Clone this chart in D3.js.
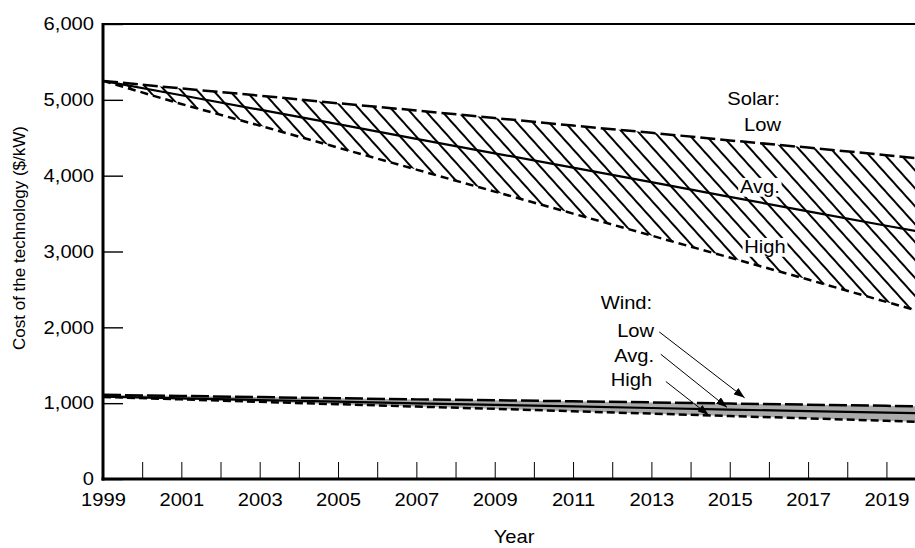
<!DOCTYPE html>
<html><head><meta charset="utf-8">
<script src="https://cdn.jsdelivr.net/npm/d3@7"></script>
<style>
body{margin:0;background:#fff}
svg{display:block}
text{font-family:"Liberation Sans",Arial,Helvetica,sans-serif;fill:#000}
</style>
</head><body>
<svg id="c" width="915" height="548"></svg>
<script>
// ---- data ----
const years      = [1999, 2001, 2003, 2005, 2007, 2009, 2011, 2013, 2015, 2017, 2019, 2020];
const solarLow   = [5250, 5150, 5055, 4955, 4860, 4760, 4660, 4565, 4465, 4370, 4270, 4220];
const solarAvg   = [5250, 5060, 4870, 4680, 4485, 4295, 4105, 3915, 3720, 3530, 3340, 3245];
const solarHigh  = [5250, 4945, 4660, 4370, 4080, 3790, 3500, 3210, 2920, 2630, 2335, 2190];
const windLow    = [1110, 1095, 1080, 1065, 1050, 1038, 1025, 1010,  995,  980,  965,  958];
const windAvg    = [1085, 1063, 1042, 1020,  998,  977,  957,  936,  916,  895,  875,  865];
const windHigh   = [1082, 1050, 1018,  986,  955,  925,  893,  862,  830,  800,  768,  752];
const yTickValues = [0, 1000, 2000, 3000, 4000, 5000, 6000];
const xTickYears  = [1999,2000,2001,2002,2003,2004,2005,2006,2007,2008,2009,2010,2011,2012,2013,2014,2015,2016,2017,2018,2019];
const xLabelYears = [1999, 2001, 2003, 2005, 2007, 2009, 2011, 2013, 2015, 2017, 2019];
const solarLabels = ["Solar:", "Low", "Avg.", "High"];
const windLabels  = ["Wind:", "Low", "Avg.", "High"];

// ---- layout ----
const svg = d3.select("#c");
const x = d3.scaleLinear().domain([1999, 2020]).range([103, 925.6]);
const y = d3.scaleLinear().domain([0, 6000]).range([479, 24]);
const SX = 1.12; // horizontal text stretch

const defs = svg.append("defs");
const pat = defs.append("pattern").attr("id","hatch").attr("patternUnits","userSpaceOnUse")
  .attr("width",12).attr("height",12).attr("patternTransform","rotate(-42)");
pat.append("line").attr("x1",2).attr("y1",-2).attr("x2",2).attr("y2",14)
  .attr("stroke","#000").attr("stroke-width",2);
defs.append("marker").attr("id","arr").attr("markerUnits","userSpaceOnUse")
  .attr("markerWidth",11).attr("markerHeight",8).attr("refX",11).attr("refY",4)
  .attr("orient","auto")
  .append("path").attr("d","M0,0 L11,4 L0,8 Z").attr("fill","#000");

const gFill = svg.append("g");
const gBg = svg.append("g");
const gLines = svg.append("g");
const gAxis = svg.append("g");
const gText = svg.append("g");

const idx = d3.range(years.length);
const area = (lo, hi) => d3.area().x(i => x(years[i])).y0(i => y(lo[i])).y1(i => y(hi[i]))(idx);
const line = (s) => d3.line().x(i => x(years[i])).y(i => y(s[i]))(idx);

gFill.append("path").attr("d", area(windHigh, windLow)).attr("fill","#aaaaaa");
gFill.append("path").attr("d", area(solarHigh, solarLow)).attr("fill","url(#hatch)");

const series = [
  [solarLow, "15,5", 2.5], [solarAvg, null, 2.2], [solarHigh, "8,5", 2.5],
  [windLow, "18,4", 2.5], [windAvg, null, 2.2], [windHigh, "8,4", 2.5]
];
series.forEach(([s, dash, w]) => {
  const p = gLines.append("path").attr("d", line(s)).attr("fill","none")
    .attr("stroke","#000").attr("stroke-width", w);
  if (dash) p.attr("stroke-dasharray", dash);
});

// ---- axes ----
const yAxis = d3.axisLeft(y).tickValues(yTickValues).tickSize(-20).tickPadding(8)
  .tickFormat(d3.format(","));
const gy = gAxis.append("g").attr("transform","translate(103,0)").call(yAxis);
gy.select(".domain").remove();
gy.selectAll(".tick line").attr("stroke","#000").attr("stroke-width",1.4);
gy.selectAll(".tick text").attr("font-size",18).attr("transform",`scale(${SX},1)`);

const xAxis = d3.axisBottom(x).tickValues(xTickYears).tickSize(-17).tickPadding(14)
  .tickFormat(d => xLabelYears.includes(d) ? String(d) : "");
const gx = gAxis.append("g").attr("transform","translate(0,479)").call(xAxis);
gx.select(".domain").remove();
gx.selectAll(".tick line").attr("stroke","#000").attr("stroke-width",1);
gx.selectAll(".tick text").attr("font-size",18).attr("transform",`scale(${SX},1)`);

// frame lines
gAxis.append("line").attr("x1",x(1999)).attr("x2",915).attr("y1",y(6000)).attr("y2",y(6000))
  .attr("stroke","#000").attr("stroke-width",2);
gAxis.append("line").attr("x1",x(1999)).attr("x2",x(1999)).attr("y1",y(6000)-1).attr("y2",y(0)+1.5)
  .attr("stroke","#000").attr("stroke-width",3);
gAxis.append("line").attr("x1",x(1999)-1.5).attr("x2",915).attr("y1",y(0)).attr("y2",y(0))
  .attr("stroke","#000").attr("stroke-width",3);

// axis titles
gText.append("text").attr("transform",`translate(514,543) scale(${SX},1)`)
  .attr("text-anchor","middle").attr("font-size",18).text("Year");
gText.append("text").attr("transform","translate(25,238) rotate(-90)")
  .attr("text-anchor","middle").attr("font-size",17).text("Cost of the technology ($/kW)");

// ---- annotations ----
function label(txt, yr, val, bg) {
  const t = gText.append("text")
    .attr("transform",`translate(${x(yr)},${y(val)}) scale(${SX},1)`)
    .attr("text-anchor","end").attr("font-size",18).text(txt);
  if (bg) {
    const b = t.node().getBBox();
    gBg.append("rect").attr("transform",`translate(${x(yr)},${y(val)}) scale(${SX},1)`)
      .attr("x",b.x-1.5).attr("y",b.y+1).attr("width",b.width+3).attr("height",b.height-1)
      .attr("fill","#fff");
  }
}
label(solarLabels[0], 2016.28, 4932, false);
label(solarLabels[1], 2016.31, 4589, false);
label(solarLabels[2], 2016.28, 3772, true);
label(solarLabels[3], 2016.43, 2980, true);
label(windLabels[0], 2013.02, 2242, false);
label(windLabels[1], 2013.07, 1873, false);
label(windLabels[2], 2013.07, 1543, false);
label(windLabels[3], 2013.02, 1226, false);

const arrows = [
  [2013.20, 1940, 2015.38, 1070],
  [2013.24, 1645, 2014.93, 945],
  [2013.37, 1285, 2014.46, 844]
];
arrows.forEach(([a, b, c, d]) => {
  gText.append("line").attr("x1",x(a)).attr("y1",y(b)).attr("x2",x(c)).attr("y2",y(d))
    .attr("stroke","#000").attr("stroke-width",1).attr("marker-end","url(#arr)");
});
</script>
</body></html>
